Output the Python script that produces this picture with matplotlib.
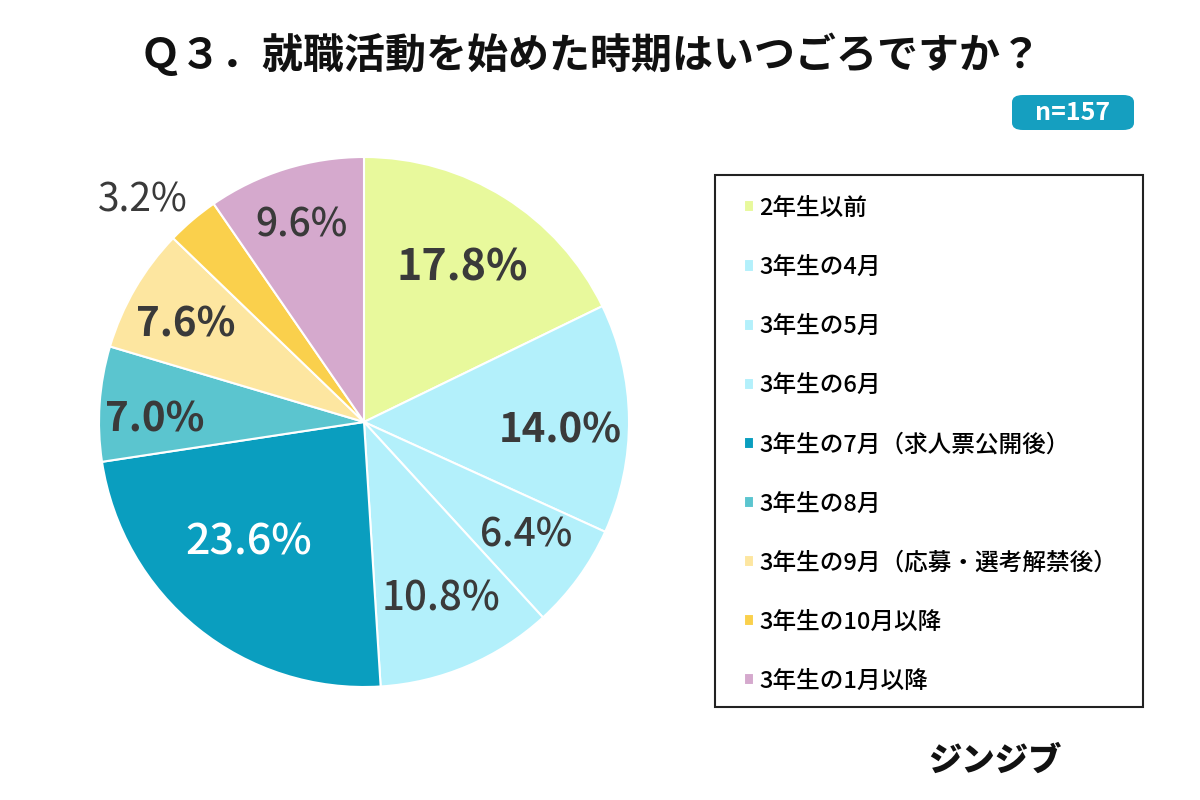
import numpy as np
import matplotlib.pyplot as plt
from matplotlib.patches import Rectangle, FancyBboxPatch

plt.rcParams['font.family'] = ['Noto Sans CJK JP', 'DejaVu Sans']

categories = ["2年生以前", "3年生の4月", "3年生の5月", "3年生の6月",
              "3年生の7月（求人票公開後）", "3年生の8月",
              "3年生の9月（応募・選考解禁後）", "3年生の10月以降", "3年生の1月以降"]
shares = [17.8, 14.0, 6.4, 10.8, 23.6, 7.0, 7.6, 3.2, 9.6]
colors = ["#E8F99C", "#B3F0FB", "#B3F0FB", "#B3F0FB", "#0A9EBF",
          "#5BC5CF", "#FDE6A0", "#FAD04C", "#D5A9CD"]

# label placement: radial fraction and angle nudge (deg) from the wedge middle
label_r = [0.70, 0.74, 0.74, 0.72, 0.62, 0.79, 0.77, 1.19, 0.79]
label_da = [0, -2.4, 1.7, 0.9, -5.6, 2.6, 1.0, 4.2, 0]
label_size = [31, 29, 28, 29, 31, 29, 29, 28, 28]
label_weight = ["bold", "bold", "medium", "medium", "medium", "bold", "bold", "normal", "medium"]
label_col = ["#3a3a3a"] * 4 + ["white"] + ["#3a3a3a"] * 4

fig = plt.figure(figsize=(12, 8), dpi=100)
fig.patch.set_facecolor("white")

ax = fig.add_axes([(364 - 265) / 1200, (800 - 687) / 800, 530 / 1200, 530 / 800])
wedges, _ = ax.pie(shares, colors=colors, startangle=90, counterclock=False,
                   wedgeprops=dict(edgecolor="white", linewidth=1.5))
ax.set_xlim(-1, 1)
ax.set_ylim(-1, 1)
ax.set_aspect("equal")
ax.axis("off")

for i, w in enumerate(wedges):
    mid = np.deg2rad((w.theta1 + w.theta2) / 2 + label_da[i])
    r = label_r[i]
    fs = label_size[i]
    ax.annotate(f"{shares[i]:.1f}%", (r * np.cos(mid), r * np.sin(mid)),
                xytext=(0, -0.36 * fs), textcoords="offset points",
                ha="center", va="baseline", fontsize=fs,
                fontweight=label_weight[i], color=label_col[i])

fig.text(0.4925, 1 - 55 / 800, "Ｑ３．就職活動を始めた時期はいつごろですか？",
         ha="center", va="center", fontsize=29.5, fontweight="bold", color="#111111")

# n badge
badge = FancyBboxPatch((1012 / 1200, 1 - 130 / 800), 122 / 1200, 35 / 800,
                       boxstyle="round,pad=0,rounding_size=0.009",
                       transform=fig.transFigure, facecolor="#159FC0", edgecolor="none")
fig.patches.append(badge)
fig.text(1073 / 1200, 1 - 113 / 800, "n=157", ha="center", va="center",
         fontsize=18, fontweight="bold", color="white")

# legend frame
frame = Rectangle((715 / 1200, 1 - 707 / 800), 428 / 1200, 532 / 800,
                  transform=fig.transFigure, facecolor="white", edgecolor="#222222", linewidth=1.5)
fig.patches.append(frame)
leg = fig.legend(wedges, categories, loc="upper left",
                 bbox_to_anchor=(732 / 1200, 1 - 185 / 800), frameon=False,
                 fontsize=17, handlelength=0.42, handleheight=0.42,
                 handletextpad=0.25, labelspacing=1.53, borderpad=0)
for t in leg.get_texts():
    t.set_fontweight("medium")

fig.text(995 / 1200, 1 - 760 / 800, "ジンジブ", ha="center", va="center",
         fontsize=24, fontweight="heavy", color="#111111")

fig.savefig("out.png", dpi=100)
